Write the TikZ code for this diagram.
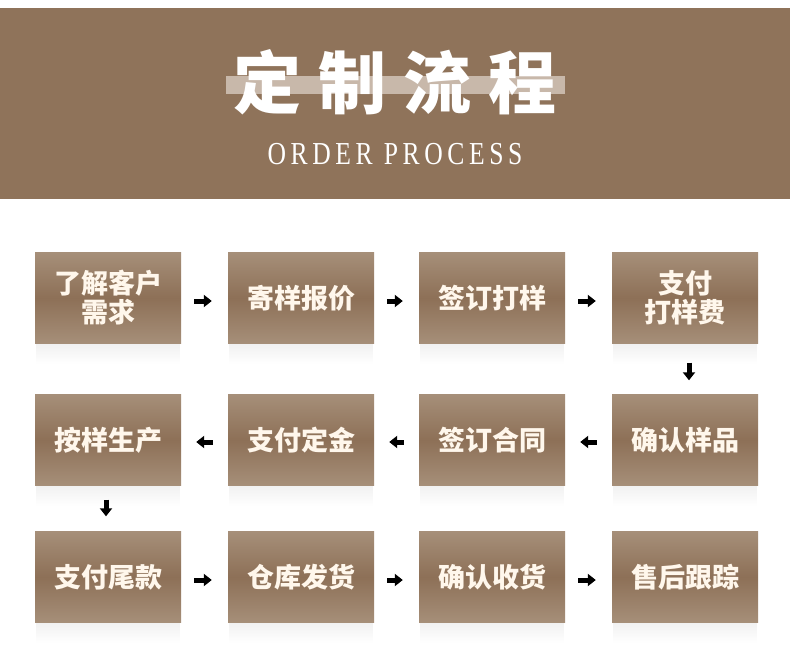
\documentclass[tikz,border=0pt]{standalone}
\usepackage{fontspec}
\setmainfont{Liberation Serif}
\newfontfamily\cjk{Noto Sans CJK SC}
\newfontfamily\cjkheavy{Noto Sans CJK SC Black}
\usetikzlibrary{arrows.meta,fadings}
\definecolor{band}{HTML}{8F735A}
\definecolor{bar}{HTML}{C8B8AA}
\definecolor{boxtop}{HTML}{A68F79}
\definecolor{boxmid}{HTML}{8D7057}
\definecolor{txt}{HTML}{FFF7EC}
\tikzset{
  stepbox/.style={minimum width=146pt, minimum height=91pt, inner sep=0pt,
    top color=boxtop, bottom color=boxtop, middle color=boxmid, text=txt,
    font=\cjk\bfseries\fontsize{27}{29}\selectfont, align=center},
  arr/.style={line width=5pt, -{Triangle[width=12pt,length=8pt]}},
}

\begin{document}
\begin{tikzpicture}[x=1pt,y=-1pt]
		%%%%% HEADER %%%%%
		\useasboundingbox (0,0) rectangle (790,669);
		\fill[white] (0,0) rectangle (790,669);
		\fill[band] (0,8) rectangle (790,199);
		\fill[bar] (226,76) rectangle (565,94);
		
		\node[text=white] (title) at (395,82) {\cjkheavy\addfontfeatures{LetterSpace=25}\fontsize{68}{68}\selectfont 定制流程};
		\node[text=white, xscale=0.8, transform shape] (sub) at (395,154) {\addfontfeatures{LetterSpace=18}\fontsize{32}{32}\selectfont ORDER PROCESS};
		
		%%%%% SHADOWS %%%%%
		\foreach \x in {108,301,492,685}
			\foreach \y in {298,440,577}
				\fill[black, opacity=0.07, path fading=south] (\x-72,\y+40) rectangle (\x+72,\y+66);
		
		%%%%% STEPS %%%%%
		\node[stepbox] (need) at (108,298) {了解客户\\需求};
		\node[stepbox] (quote) at (301,298) {寄样报价};
		\node[stepbox] (signS) at (492,298) {签订打样};
		\node[stepbox] (paySample) at (685,298) {支付\\打样费};
		
		\node[stepbox] (confirm) at (685,440) {确认样品};
		\node[stepbox] (signC) at (492,440) {签订合同};
		\node[stepbox] (deposit) at (301,440) {支付定金};
		\node[stepbox] (produce) at (108,440) {按样生产};
		
		\node[stepbox] (balance) at (108,577) {支付尾款};
		\node[stepbox] (ship) at (301,577) {仓库发货};
		\node[stepbox] (receive) at (492,577) {确认收货};
		\node[stepbox] (service) at (685,577) {售后跟踪};
		
		%%%%% ARROWS %%%%%
		\draw[arr, shorten <=13pt, shorten >=16pt] ([yshift=-3pt]need.east) -- ([yshift=-3pt]quote.west);
		\draw[arr, shorten <=13pt, shorten >=16pt] ([yshift=-3pt]quote.east) -- ([yshift=-3pt]signS.west);
		\draw[arr, shorten <=13pt, shorten >=16pt] ([yshift=-3pt]signS.east) -- ([yshift=-3pt]paySample.west);
		\draw[arr, shorten <=19pt, shorten >=14pt] ([xshift=4pt]paySample.south) -- ([xshift=4pt]confirm.north);
		
		\draw[arr, shorten <=15pt, shorten >=15pt] ([yshift=-2pt]confirm.west) -- ([yshift=-2pt]signC.east);
		\draw[arr, shorten <=15pt, shorten >=15pt] ([yshift=-2pt]signC.west) -- ([yshift=-2pt]deposit.east);
		\draw[arr, shorten <=15pt, shorten >=15pt] ([yshift=-2pt]deposit.west) -- ([yshift=-2pt]produce.east);
		\draw[arr, shorten <=14pt, shorten >=15pt] ([xshift=-2pt]produce.south) -- ([xshift=-2pt]balance.north);
		
		\draw[arr, shorten <=13pt, shorten >=16pt] ([yshift=-3pt]balance.east) -- ([yshift=-3pt]ship.west);
		\draw[arr, shorten <=13pt, shorten >=16pt] ([yshift=-3pt]ship.east) -- ([yshift=-3pt]receive.west);
		\draw[arr, shorten <=13pt, shorten >=16pt] ([yshift=-3pt]receive.east) -- ([yshift=-3pt]service.west);
	\end{tikzpicture}
\end{document}
